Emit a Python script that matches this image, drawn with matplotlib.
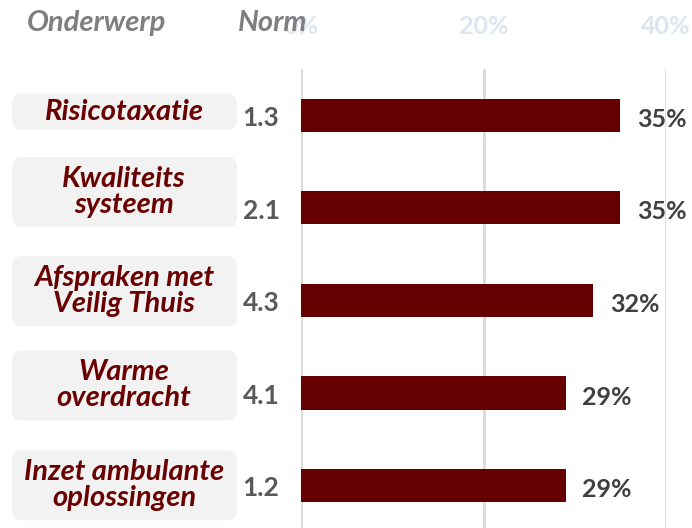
import matplotlib.pyplot as plt
import matplotlib.transforms as mtransforms
from matplotlib.patches import FancyBboxPatch

# data
onderwerpen = ['Risicotaxatie', 'Kwaliteits\nsysteem', 'Afspraken met\nVeilig Thuis',
               'Warme\noverdracht', 'Inzet ambulante\noplossingen']
normen = ['1.3', '2.1', '4.3', '4.1', '1.2']
percentages = [0.35, 0.35, 0.32, 0.29, 0.29]
ticks = [0, 0.2, 0.4]
tick_labels = ['0%', '20%', '40%']

# box centre offset relative to bar (in category units)
box_offsets = [-0.04, -0.17, -0.1, -0.08, 0.0]

font = 'Lato'
plt.rcParams['font.family'] = [font, 'DejaVu Sans']

fig = plt.figure(figsize=(6.92, 5.28), dpi=100)
ax = fig.add_axes([301 / 692, 0, 365 / 692, 459 / 528])

y = list(range(len(percentages)))
ax.barh(y, percentages, height=0.36, color='#660000', zorder=3)
ax.set_xlim(0, 0.4)
ax.set_ylim(4.46, -0.5)
ax.set_yticks([])
ax.set_xticks(ticks)
ax.set_xticklabels(tick_labels)
ax.xaxis.tick_top()
ax.tick_params(axis='x', length=0, pad=22, labelsize=18, labelcolor='#dce6f2')
for lab in ax.get_xticklabels():
    lab.set_fontweight('bold')
ax.grid(axis='x', color='#d9d9d9', linewidth=2, zorder=0)
for s in ax.spines.values():
    s.set_visible(False)

# value labels
for i, v in enumerate(percentages):
    ax.annotate(f'{round(v * 100)}%', (v, i), xytext=(12, -3), textcoords='offset points',
                va='center', ha='left', fontsize=18, fontweight='bold', color='#404040')

trans = mtransforms.blended_transform_factory(fig.transFigure, ax.transData)

# headers
fig.text(27 / 692, 1 - 23 / 528, 'Onderwerp', fontsize=21, fontweight='bold', fontstyle='italic',
         color='#7f7f7f', va='center', ha='left')
fig.text(238 / 692, 1 - 23 / 528, 'Norm', fontsize=21, fontweight='bold', fontstyle='italic',
         color='#7f7f7f', va='center', ha='left')

# boxes with category labels, plus norm values
for i, (name, norm) in enumerate(zip(onderwerpen, normen)):
    yc = i + box_offsets[i]
    nlines = name.count('\n') + 1
    h = 36 if nlines == 1 else 70
    ypix = ax.transData.transform((0, yc))[1]
    box = FancyBboxPatch((12 / 692, (ypix - h / 2) / 528), 225 / 692, h / 528,
                         boxstyle='round,pad=0,rounding_size=0.014',
                         mutation_aspect=692 / 528,
                         transform=fig.transFigure, facecolor='#f2f2f2', edgecolor='none')
    fig.patches.append(box)
    fig.text(124 / 692, yc, name, transform=trans, ha='center', va='center',
             fontsize=21, fontweight='bold', fontstyle='italic', color='#6b0000',
             linespacing=1.0)
    fig.text(261 / 692, i + 0.03, norm, transform=trans, ha='center', va='center',
             fontsize=19, fontweight='bold', color='#595959')

fig.savefig('out.png', dpi=100)
